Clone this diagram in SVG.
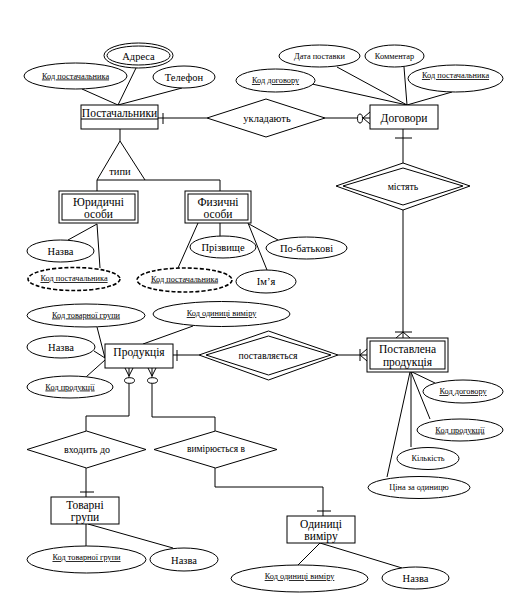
<svg xmlns="http://www.w3.org/2000/svg" width="520" height="607" viewBox="0 0 520 607">
<style>
.s{fill:#fff;stroke:#000;stroke-width:1}
.n{fill:none;stroke:#000;stroke-width:1}
.d{fill:#fff;stroke:#000;stroke-width:1.6;stroke-dasharray:4,2}
text{font-family:"Liberation Serif","Times New Roman",serif;text-anchor:middle;fill:#000}
.en{font-size:11.5px}
.big{font-size:10.5px}
.sm{font-size:8.3px}
.k{font-size:8.3px;text-decoration:underline;text-decoration-thickness:1.3px}
</style>
<rect width="520" height="607" fill="#fff"/>
<g id="connectors" class="n">
<line x1="82" y1="89" x2="118" y2="105"/>
<line x1="136" y1="68" x2="118" y2="105"/>
<line x1="182" y1="88" x2="118" y2="105"/>
<line x1="158" y1="118" x2="207" y2="118"/>
<line x1="163" y1="113" x2="163" y2="124"/>
<line x1="325" y1="118" x2="370" y2="118"/>
<line x1="363" y1="118" x2="370" y2="112"/>
<line x1="363" y1="118" x2="370" y2="124"/>
<ellipse cx="360" cy="118.5" rx="2.5" ry="4.5" fill="#fff"/>
<line x1="337" y1="67" x2="407" y2="105"/>
<line x1="404" y1="67" x2="407" y2="105"/>
<line x1="312" y1="84" x2="407" y2="105"/>
<line x1="452" y1="92" x2="407" y2="105"/>
<line x1="403" y1="129" x2="403" y2="163"/>
<line x1="395" y1="138" x2="412" y2="138"/>
<line x1="403" y1="210" x2="403" y2="338"/>
<line x1="395" y1="332" x2="412" y2="332"/>
<line x1="403" y1="332" x2="396" y2="338"/>
<line x1="403" y1="332" x2="410" y2="338"/>
<line x1="120" y1="129" x2="120" y2="141"/>
<polyline points="97,180 120,141 145,180"/>
<polyline points="97,191 97,180 220,180 220,191"/>
<line x1="97" y1="224" x2="68" y2="240"/>
<line x1="97" y1="224" x2="100" y2="268"/>
<line x1="198" y1="223" x2="178" y2="268"/>
<line x1="220" y1="223" x2="220" y2="237"/>
<line x1="248" y1="223" x2="267" y2="270"/>
<line x1="249" y1="224" x2="278" y2="240"/>
<line x1="97" y1="327" x2="105" y2="358"/>
<line x1="94" y1="351" x2="105" y2="358"/>
<line x1="86" y1="377" x2="105" y2="360"/>
<line x1="193" y1="326" x2="143" y2="344"/>
<line x1="173" y1="355" x2="199" y2="355"/>
<line x1="177" y1="350" x2="177" y2="361"/>
<line x1="338" y1="355" x2="367" y2="355"/>
<line x1="360" y1="349" x2="360" y2="361"/>
<line x1="360" y1="355" x2="367" y2="349"/>
<line x1="360" y1="355" x2="367" y2="361"/>
<line x1="412" y1="372" x2="435" y2="383"/>
<line x1="411" y1="372" x2="430" y2="419"/>
<line x1="411" y1="372" x2="411" y2="447"/>
<line x1="410" y1="372" x2="387" y2="477"/>
<line x1="129" y1="368" x2="129" y2="378"/>
<line x1="125" y1="368" x2="129" y2="376"/>
<line x1="133" y1="368" x2="129" y2="376"/>
<ellipse cx="129.5" cy="380.5" rx="5" ry="2.8" fill="#fff"/>
<polyline points="129,383.3 129,416 86,416 86,431"/>
<line x1="152" y1="368" x2="152" y2="378"/>
<line x1="148" y1="368" x2="152" y2="376"/>
<line x1="156" y1="368" x2="152" y2="376"/>
<ellipse cx="152.5" cy="380.5" rx="5" ry="2.8" fill="#fff"/>
<polyline points="152,383.3 152,417 215,417 215,431"/>
<line x1="86" y1="468" x2="86" y2="497"/>
<line x1="80" y1="492" x2="94" y2="492"/>
<polyline points="215,468 215,487 323,487 323,516"/>
<line x1="317" y1="511" x2="331" y2="511"/>
<line x1="86" y1="524" x2="86" y2="546"/>
<line x1="88" y1="524" x2="173" y2="548"/>
<line x1="320" y1="543" x2="298" y2="565"/>
<line x1="320" y1="543" x2="402" y2="568"/>
</g>

<g id="postachalnyky">
<rect class="s" x="81" y="105" width="77" height="24"/>
<line class="n" x1="81" y1="119" x2="158" y2="119"/>
<text class="en" x="119.5" y="116.5">Постачальники</text>
</g>
<g id="adresa">
<ellipse class="s" cx="138.5" cy="55.5" rx="34.5" ry="12.5"/>
<ellipse class="s" cx="138.5" cy="55.5" rx="31.5" ry="9.5"/>
<text class="big" x="138.5" y="59.5">Адреса</text>
</g>
<g id="kod-post-1">
<ellipse class="s" cx="75.5" cy="76" rx="51.5" ry="13"/>
<text class="k" x="75.5" y="78.5">Код постачальника</text>
</g>
<g id="telefon">
<ellipse class="s" cx="184" cy="77" rx="31" ry="11"/>
<text class="big" x="184" y="81">Телефон</text>
</g>

<g id="ukladayut">
<polygon class="s" points="207,118 266,99 325,118 266,137"/>
<text class="big" x="267" y="122">укладають</text>
</g>

<g id="dogovory">
<rect class="s" x="370" y="105" width="68" height="24"/>
<text class="en" x="404" y="121.5">Договори</text>
</g>
<g id="data-postavky">
<ellipse class="s" cx="319.5" cy="56" rx="40.5" ry="11"/>
<text class="sm" x="319.5" y="58.5">Дата поставки</text>
</g>
<g id="komentar">
<ellipse class="s" cx="394.5" cy="56" rx="29.5" ry="11"/>
<text class="sm" x="394.5" y="58.5">Комментар</text>
</g>
<g id="kod-dog-1">
<ellipse class="s" cx="275.5" cy="80.5" rx="39.5" ry="11.5"/>
<text class="k" x="275.5" y="83">Код договору</text>
</g>
<g id="kod-post-2">
<ellipse class="s" cx="455.5" cy="78.5" rx="47.5" ry="13.5"/>
<text class="k" x="455.5" y="78">Код постачальника</text>
</g>

<g id="mistyat">
<polygon class="s" points="336,186 403,163 470,186 403,210"/>
<polygon class="s" points="343,186 403,168 463,186 403,205"/>
<text class="big" x="403" y="189.5" style="font-size:9.8px">містять</text>
</g>

<g id="typy">
<text class="big" x="120" y="174.5">типи</text>
</g>

<g id="yurydychni">
<rect class="s" x="59" y="191" width="79" height="32"/>
<rect class="s" x="62" y="194" width="73" height="26"/>
<text class="en" x="98.5" y="205.5">Юридичні</text>
<text class="en" x="98.5" y="218">особи</text>
</g>
<g id="nazva-1">
<ellipse class="s" cx="60.5" cy="251" rx="33.5" ry="11"/>
<text class="big" x="60.5" y="255">Назва</text>
</g>
<g id="kod-post-3">
<ellipse class="d" cx="74" cy="279" rx="46" ry="11.5"/>
<text class="k" x="74" y="281">Код постачальника</text>
</g>

<g id="fizychni">
<rect class="s" x="185" y="191" width="66" height="32"/>
<rect class="s" x="188" y="194" width="60" height="26"/>
<text class="en" x="218" y="205.5">Физичні</text>
<text class="en" x="218" y="218">особи</text>
</g>
<g id="prizvyshche">
<ellipse class="s" cx="223" cy="247" rx="33" ry="11"/>
<text class="big" x="223" y="250.5">Прізвище</text>
</g>
<g id="po-batkovi">
<ellipse class="s" cx="306.5" cy="248" rx="40.5" ry="11"/>
<text class="big" x="306.5" y="251.5">По-батькові</text>
</g>
<g id="imya">
<ellipse class="s" cx="266" cy="281.5" rx="30" ry="11.5"/>
<text class="big" x="266" y="285">Ім’я</text>
</g>
<g id="kod-post-4">
<ellipse class="d" cx="184.5" cy="280" rx="47.5" ry="12"/>
<text class="k" x="184.5" y="281.5">Код постачальника</text>
</g>

<g id="produktsiya">
<rect class="s" x="105" y="344" width="68" height="24"/>
<text class="en" x="139" y="356">Продукція</text>
</g>
<g id="kod-tovgr-1">
<ellipse class="s" cx="86" cy="315.5" rx="59" ry="11.5"/>
<text class="k" x="86" y="317.5">Код товарної групи</text>
</g>
<g id="kod-od-1">
<ellipse class="s" cx="221.5" cy="314" rx="68.5" ry="12.5"/>
<text class="k" x="221.5" y="316">Код одиниці виміру</text>
</g>
<g id="nazva-2">
<ellipse class="s" cx="61" cy="347" rx="34" ry="11"/>
<text class="big" x="61" y="351">Назва</text>
</g>
<g id="kod-prod-1">
<ellipse class="s" cx="70" cy="387" rx="43" ry="11"/>
<text class="k" x="70" y="389.5">Код продукції</text>
</g>

<g id="postavlyayetsya">
<polygon class="s" points="199,355 268.5,331 338,355 268.5,380"/>
<polygon class="s" points="206,355 268.5,336 331,355 268.5,375"/>
<text class="big" x="268" y="358.5" style="font-size:9.8px">поставляється</text>
</g>

<g id="postavlena">
<rect class="s" x="367" y="338" width="81" height="34"/>
<rect class="s" x="370" y="341" width="75" height="28"/>
<text class="en" x="407.5" y="353">Поставлена</text>
<text class="en" x="407.5" y="366">продукція</text>
</g>
<g id="kod-dog-2">
<ellipse class="s" cx="463" cy="391.5" rx="40" ry="11.5"/>
<text class="k" x="463" y="394">Код договору</text>
</g>
<g id="kod-prod-2">
<ellipse class="s" cx="460" cy="430" rx="43" ry="11"/>
<text class="k" x="460" y="432.5">Код продукції</text>
</g>
<g id="kilkist">
<ellipse class="s" cx="428" cy="458.5" rx="31" ry="11"/>
<text class="sm" x="428" y="461">Кількість</text>
</g>
<g id="tsina">
<ellipse class="s" cx="419" cy="487.5" rx="51" ry="11"/>
<text class="sm" x="419" y="490">Ціна за одиницю</text>
</g>

<g id="vkhodyt-do">
<polygon class="s" points="27,449.5 86.5,431 146,449.5 86.5,468"/>
<text class="big" x="87" y="453" style="font-size:10px">входить до</text>
</g>
<g id="vymiryuyetsya">
<polygon class="s" points="154,449.5 215.5,431 277,449.5 215.5,468"/>
<text class="big" x="216" y="451.5" style="font-size:9.5px">вимірюється в</text>
</g>

<g id="tovarni-grupy">
<rect class="s" x="51" y="497" width="68" height="27"/>
<text class="en" x="85" y="508.5">Товарні</text>
<text class="en" x="85" y="521">групи</text>
</g>
<g id="kod-tovgr-2">
<ellipse class="s" cx="86.5" cy="559.5" rx="59.5" ry="13.5"/>
<text class="k" x="86.5" y="560">Код товарної групи</text>
</g>
<g id="nazva-3">
<ellipse class="s" cx="184" cy="559.5" rx="34" ry="11.5"/>
<text class="big" x="184" y="563.5">Назва</text>
</g>

<g id="odynytsi">
<rect class="s" x="287" y="516" width="68" height="27"/>
<text class="en" x="321" y="527.5">Одиниці</text>
<text class="en" x="321" y="540">виміру</text>
</g>
<g id="kod-od-2">
<ellipse class="s" cx="299.5" cy="578.5" rx="68.5" ry="13.5"/>
<text class="k" x="299.5" y="579">Код одиниці виміру</text>
</g>
<g id="nazva-4">
<ellipse class="s" cx="415.5" cy="578" rx="33.5" ry="11"/>
<text class="big" x="415.5" y="582">Назва</text>
</g>
</svg>
